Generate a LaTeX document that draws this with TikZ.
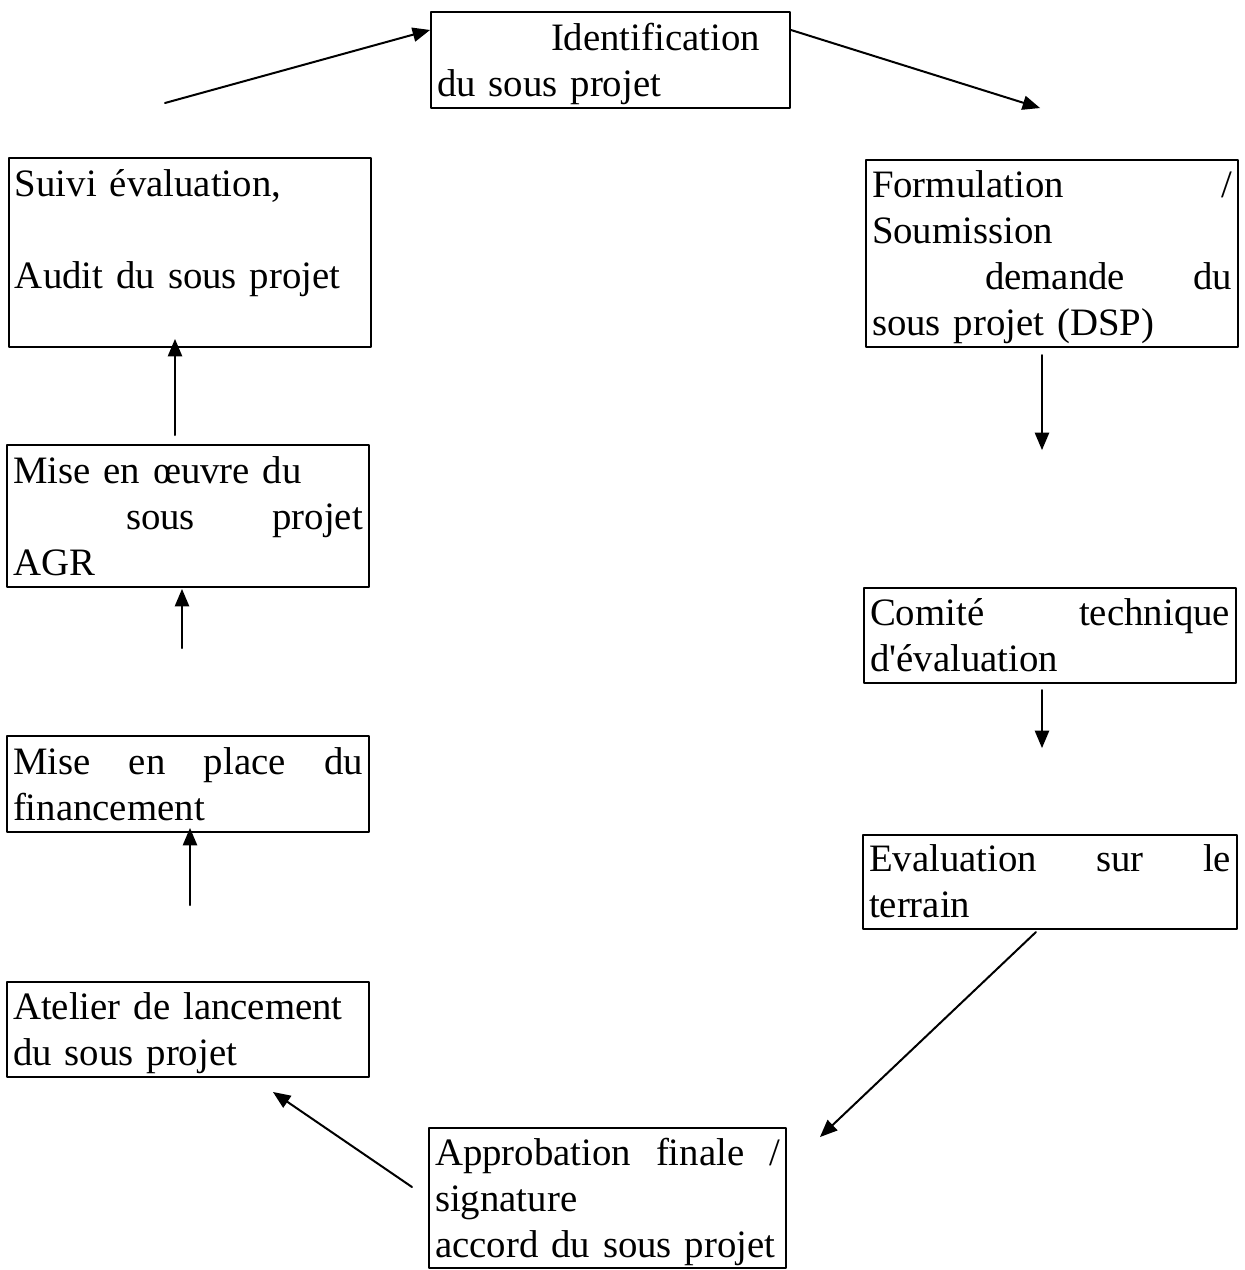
\documentclass[tikz,border=0pt]{standalone}
\usepackage{fontspec}
\setmainfont{Liberation Serif}
\usetikzlibrary{arrows}
\newcommand{\lstrut}{\rule[-5pt]{0pt}{23pt}}
\newcommand{\ligne}[1]{\makebox[\linewidth][l]{#1}}
\tikzset{
  etape/.style={draw,rectangle,line width=1pt,inner xsep=3pt,inner ysep=0pt,
    align=left,font=\fontsize{19.4pt}{23pt}\selectfont,
    execute at begin node=\lstrut,execute at end node=\lstrut},
  fleche/.style={->,line width=1pt}
}
\begin{document}
\begin{tikzpicture}[line cap=round,line join=round,>=triangle 45,x=0.5pt,y=-0.5pt]
\useasboundingbox (0,0) rectangle (1245,1270);
% les etapes
\node[etape,text width=173.5pt,minimum height=48pt] (ident) at (610.5,60) {\hspace*{57pt}Identification\\du sous projet};
\node[etape,text width=180pt,minimum height=93.5pt] (formul) at (1052,253.5) {\ligne{Formulation\hfill/}\\Soumission\\\ligne{\hspace*{56.5pt}demande\hfill du}\\sous projet (DSP)};
\node[etape,text width=180pt,minimum height=47.5pt] (comite) at (1050,635.5) {\ligne{Comité\hfill technique}\\d\textquotesingle évaluation};
\node[etape,text width=181pt,minimum height=47pt] (evalter) at (1050,881.5) {\ligne{Evaluation\hfill sur\hfill le}\\terrain};
\node[etape,text width=172.5pt,minimum height=70pt] (approb) at (607.5,1198) {\ligne{Approbation\hfill finale\hfill /}\\signature\\\ligne{accord du sous projet}};
\node[etape,text width=175pt,minimum height=47.5pt] (atelier) at (188,1029.5) {Atelier de lancement\\du sous projet};
\node[etape,text width=175pt,minimum height=48pt] (financ) at (188,784) {\ligne{Mise\hfill en\hfill place\hfill du}\\financement};
\node[etape,text width=175pt,minimum height=71pt] (oeuvre) at (188,516) {Mise en œuvre du\\\ligne{\hspace*{56.5pt}sous\hfill projet}\\AGR};
\node[etape,text width=175pt,minimum height=94.5pt] (suivi) at (190,252.5) {Suivi évaluation,\\\lstrut\\Audit du sous projet\\};
% bouts libres des fleches
\coordinate (d1) at (165,103);
\coordinate (f2) at (1040,108);
\coordinate (d3) at (1042,355);
\coordinate (f3) at (1042,450);
\coordinate (d4) at (1042,690);
\coordinate (f4) at (1042,748);
\coordinate (d5) at (1036,932);
\coordinate (f5) at (820,1137);
\coordinate (d6) at (412,1187);
\coordinate (f6) at (273,1092);
\coordinate (d7) at (190,905);
\coordinate (f7) at (190,828);
\coordinate (d8) at (182,648);
\coordinate (f8) at (182,589);
\coordinate (d9) at (175,435);
\coordinate (f9) at (175,339);
% fleches
\draw[fleche] (d1) -- ([yshift=15pt]ident.west);
\draw[fleche] ([yshift=15pt]ident.east) -- (f2);
\draw[fleche] (d3) -- (f3);
\draw[fleche] (d4) -- (f4);
\draw[fleche] (d5) -- (f5);
\draw[fleche] (d6) -- (f6);
\draw[fleche] (d7) -- (f7);
\draw[fleche] (d8) -- (f8);
\draw[fleche] (d9) -- (f9);
\end{tikzpicture}
\end{document}
